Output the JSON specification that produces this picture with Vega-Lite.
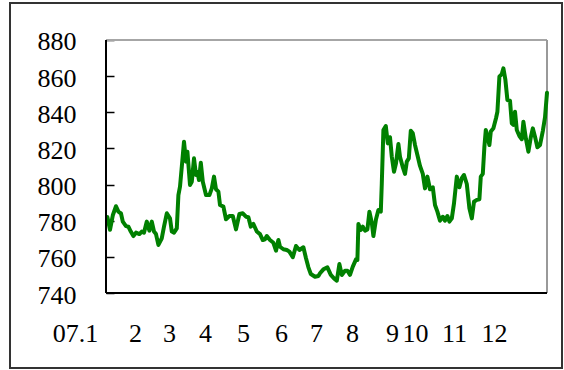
{
  "$schema": "https://vega.github.io/schema/vega-lite/v6.json",
  "width": 552,
  "height": 365,
  "autosize": {"type": "none"},
  "padding": {"left": 10, "top": 3, "right": 2, "bottom": 2},
  "background": "white",
  "config": {
    "view": {"stroke": "#333333", "strokeWidth": 2}
  },
  "data": {
    "values": [
      {"t": 0.7, "v": 782}, {"t": 2.0, "v": 775}, {"t": 3.4, "v": 783}, {"t": 5.0, "v": 788},
      {"t": 6.2, "v": 785}, {"t": 7.5, "v": 784}, {"t": 8.4, "v": 779.5}, {"t": 10.0, "v": 777},
      {"t": 11.2, "v": 776.7}, {"t": 12.4, "v": 774}, {"t": 13.7, "v": 771.5}, {"t": 15.0, "v": 773.4},
      {"t": 16.7, "v": 772.6}, {"t": 17.9, "v": 774}, {"t": 19.0, "v": 773.4}, {"t": 20.4, "v": 779.5},
      {"t": 21.7, "v": 774.5}, {"t": 22.9, "v": 779.5}, {"t": 24.0, "v": 774}, {"t": 25.0, "v": 772.6},
      {"t": 26.2, "v": 766.6}, {"t": 27.9, "v": 770.3}, {"t": 29.0, "v": 776.7}, {"t": 30.4, "v": 784.1},
      {"t": 32.0, "v": 781.3}, {"t": 32.9, "v": 774}, {"t": 34.0, "v": 773.4}, {"t": 35.4, "v": 775.8},
      {"t": 36.2, "v": 794.2}, {"t": 37.0, "v": 798.8}, {"t": 37.9, "v": 809.9}, {"t": 39.0, "v": 823.7},
      {"t": 40.0, "v": 812.7}, {"t": 40.7, "v": 818.2}, {"t": 42.0, "v": 799.8}, {"t": 42.9, "v": 801.6},
      {"t": 44.0, "v": 814.5}, {"t": 45.0, "v": 805.3}, {"t": 45.7, "v": 807.1}, {"t": 46.5, "v": 802.5},
      {"t": 47.4, "v": 812.1}, {"t": 48.4, "v": 801.6}, {"t": 50.0, "v": 794.2}, {"t": 51.7, "v": 794.2},
      {"t": 52.9, "v": 797.9}, {"t": 54.0, "v": 804.4}, {"t": 55.0, "v": 797.4}, {"t": 56.2, "v": 796.1},
      {"t": 57.0, "v": 788.7}, {"t": 58.7, "v": 787.8}, {"t": 60.0, "v": 780.8}, {"t": 61.7, "v": 782.6},
      {"t": 63.4, "v": 782.6}, {"t": 65.0, "v": 775.2}, {"t": 66.7, "v": 783.7}, {"t": 68.4, "v": 784.1},
      {"t": 70.0, "v": 782.2}, {"t": 71.2, "v": 781.9}, {"t": 72.4, "v": 776.7}, {"t": 73.7, "v": 778.2},
      {"t": 75.4, "v": 774}, {"t": 77.0, "v": 772.6}, {"t": 78.4, "v": 769.3}, {"t": 79.5, "v": 769.7},
      {"t": 80.4, "v": 771.5}, {"t": 82.0, "v": 769.3}, {"t": 83.7, "v": 767.8}, {"t": 85.0, "v": 763.4},
      {"t": 86.2, "v": 769.3}, {"t": 87.0, "v": 765.6}, {"t": 88.7, "v": 764.2}, {"t": 90.4, "v": 763.8},
      {"t": 91.7, "v": 762.9}, {"t": 93.4, "v": 759.8}, {"t": 95.0, "v": 766}, {"t": 96.7, "v": 763.8},
      {"t": 98.7, "v": 765.3}, {"t": 100.0, "v": 759.2}, {"t": 101.2, "v": 754.2}, {"t": 102.4, "v": 750.5},
      {"t": 104.5, "v": 749}, {"t": 106.2, "v": 749.4}, {"t": 107.0, "v": 750.9}, {"t": 108.7, "v": 753.1},
      {"t": 110.7, "v": 754.2}, {"t": 112.4, "v": 750}, {"t": 114.0, "v": 748.1}, {"t": 115.4, "v": 746.8},
      {"t": 116.7, "v": 756}, {"t": 117.9, "v": 750}, {"t": 119.5, "v": 752.3}, {"t": 120.7, "v": 752.3},
      {"t": 122.0, "v": 750}, {"t": 123.4, "v": 754.6}, {"t": 125.0, "v": 758.6}, {"t": 125.7, "v": 758.3},
      {"t": 126.2, "v": 778.2}, {"t": 127.4, "v": 774.9}, {"t": 128.4, "v": 776.7}, {"t": 129.5, "v": 774.5},
      {"t": 130.7, "v": 775.2}, {"t": 131.7, "v": 785}, {"t": 132.9, "v": 778.9}, {"t": 133.7, "v": 771.5},
      {"t": 135.0, "v": 780.8}, {"t": 136.2, "v": 785.9}, {"t": 137.4, "v": 785}, {"t": 137.9, "v": 800.7},
      {"t": 138.7, "v": 830.2}, {"t": 139.9, "v": 832.4}, {"t": 140.9, "v": 822.8}, {"t": 142.0, "v": 826.2},
      {"t": 142.9, "v": 815.4}, {"t": 144.0, "v": 807.1}, {"t": 145.0, "v": 811.8}, {"t": 146.2, "v": 822.5},
      {"t": 147.0, "v": 815.4}, {"t": 148.4, "v": 809.6}, {"t": 149.5, "v": 805.9}, {"t": 150.4, "v": 812.7},
      {"t": 151.4, "v": 814.5}, {"t": 152.4, "v": 829.8}, {"t": 153.4, "v": 828.4}, {"t": 154.5, "v": 821.9},
      {"t": 155.7, "v": 816.4}, {"t": 157.0, "v": 810.3}, {"t": 158.4, "v": 805.9}, {"t": 159.5, "v": 797.9},
      {"t": 160.7, "v": 804.4}, {"t": 162.0, "v": 797.4}, {"t": 163.4, "v": 798.5}, {"t": 164.5, "v": 788.7},
      {"t": 165.7, "v": 785}, {"t": 167.0, "v": 780}, {"t": 168.4, "v": 782.2}, {"t": 169.5, "v": 780},
      {"t": 170.7, "v": 782.6}, {"t": 171.7, "v": 779.5}, {"t": 172.9, "v": 781.3}, {"t": 174.0, "v": 789.6},
      {"t": 175.4, "v": 804.4}, {"t": 176.7, "v": 798.5}, {"t": 177.9, "v": 803.5}, {"t": 179.0, "v": 805.3},
      {"t": 180.4, "v": 800.3}, {"t": 181.7, "v": 786.9}, {"t": 182.9, "v": 781.3}, {"t": 184.0, "v": 790.5},
      {"t": 185.4, "v": 791.5}, {"t": 186.7, "v": 791.9}, {"t": 187.4, "v": 804.4}, {"t": 188.4, "v": 805.9},
      {"t": 189.2, "v": 821}, {"t": 189.9, "v": 830.2}, {"t": 190.7, "v": 826.9}, {"t": 191.7, "v": 821.9},
      {"t": 192.4, "v": 829.3}, {"t": 193.7, "v": 831.1}, {"t": 195.0, "v": 836.7}, {"t": 195.7, "v": 840.3},
      {"t": 196.7, "v": 859.7}, {"t": 197.9, "v": 861.2}, {"t": 198.7, "v": 864.3}, {"t": 199.7, "v": 857.9},
      {"t": 200.7, "v": 846.8}, {"t": 202.0, "v": 846.4}, {"t": 202.9, "v": 833.9}, {"t": 203.7, "v": 833},
      {"t": 204.5, "v": 840.3}, {"t": 205.4, "v": 830.2}, {"t": 206.7, "v": 826.9}, {"t": 207.9, "v": 825.1},
      {"t": 208.7, "v": 834.8}, {"t": 210.0, "v": 825.1}, {"t": 211.2, "v": 818.2}, {"t": 212.4, "v": 826.2},
      {"t": 213.4, "v": 831.1}, {"t": 214.5, "v": 826.5}, {"t": 215.7, "v": 820.6}, {"t": 217.0, "v": 821.9},
      {"t": 218.4, "v": 829.6}, {"t": 219.5, "v": 837.2}, {"t": 220.5, "v": 850.8}
    ]
  },
  "layer": [
    {
      "mark": {"type": "rule", "color": "#a6a6a6", "strokeWidth": 2},
      "encoding": {
        "x": {"datum": 0, "type": "quantitative"},
        "x2": {"datum": 220.5},
        "y": {"datum": 880, "type": "quantitative"}
      }
    },
    {
      "mark": {"type": "rule", "color": "#999999", "strokeWidth": 2},
      "encoding": {
        "x": {"datum": 220.5, "type": "quantitative"},
        "y": {"datum": 740, "type": "quantitative"},
        "y2": {"datum": 880}
      }
    },
    {
      "mark": {"type": "line", "color": "#008000", "strokeWidth": 4, "strokeJoin": "round", "strokeCap": "round"},
      "encoding": {
        "x": {
          "field": "t",
          "type": "quantitative",
          "scale": {"domain": [-48, 228], "nice": false, "zero": false},
          "axis": {
            "orient": "bottom",
            "offset": -75,
            "values": [-15.5, 14.5, 31.5, 49.5, 68.5, 87.5, 105, 123, 143, 154.5, 174, 194],
            "labelExpr": "{'-15.5':'07.1','14.5':'2','31.5':'3','49.5':'4','68.5':'5','87.5':'6','105':'7','123':'8','143':'9','154.5':'10','174':'11','194':'12'}[datum.value]",
            "domain": false,
            "ticks": false,
            "labelPadding": 27,
            "labelFont": "Liberation Serif",
            "labelFontSize": 26,
            "labelColor": "black",
            "labelOverlap": false,
            "labelFlush": false,
            "labelBound": false,
            "title": null,
            "grid": false
          }
        },
        "y": {
          "field": "v",
          "type": "quantitative",
          "scale": {"domain": [698.5, 900.47], "nice": false, "zero": false},
          "axis": {
            "orient": "left",
            "offset": -104,
            "values": [740, 760, 780, 800, 820, 840, 860, 880],
            "domain": false,
            "ticks": true,
            "tickSize": 8,
            "tickColor": "black",
            "tickWidth": 1.5,
            "labelPadding": 30,
            "labelOffset": 2,
            "labelFont": "Liberation Serif",
            "labelFontSize": 26,
            "labelColor": "black",
            "labelOverlap": false,
            "labelFlush": false,
            "labelBound": false,
            "title": null,
            "grid": false
          }
        }
      }
    },
    {
      "mark": {"type": "rule", "color": "black", "strokeWidth": 2},
      "encoding": {
        "x": {"datum": 0, "type": "quantitative"},
        "y": {"datum": 740, "type": "quantitative"},
        "y2": {"datum": 880}
      }
    },
    {
      "mark": {"type": "rule", "color": "black", "strokeWidth": 2},
      "encoding": {
        "x": {"datum": 0, "type": "quantitative"},
        "x2": {"datum": 220.5},
        "y": {"datum": 740, "type": "quantitative"}
      }
    }
  ]
}
